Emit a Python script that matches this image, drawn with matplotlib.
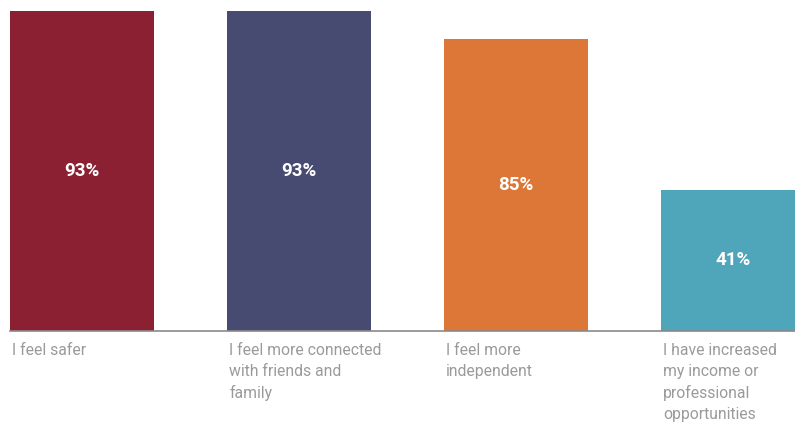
import matplotlib
matplotlib.use("Agg")
import matplotlib.pyplot as plt

categories = ["I feel safer",
              "I feel more connected\nwith friends and\nfamily",
              "I feel more\nindependent",
              "I have increased\nmy income or\nprofessional\nopportunities"]
values = [93, 93, 85, 41]
value_labels = ["93%", "93%", "85%", "41%"]
colors = ["#8B2033", "#474B71", "#DC7737", "#4FA6BB"]

W, H = 795, 423
fig = plt.figure(figsize=(W / 100, H / 100), dpi=100)
fig.patch.set_facecolor("white")

left_px, base_px = 10, 331
ax = fig.add_axes([left_px / W, 1 - base_px / H, (W - left_px) / W, base_px / H])
bw = 144 / 217
x = list(range(len(values)))
ax.bar(x, values, width=bw, color=colors, align="center")
ax.set_xlim(-bw / 2, -bw / 2 + (W - left_px) / 217)
ax.set_ylim(0, 93 / 320 * base_px)
for s in ["top", "right", "left"]:
    ax.spines[s].set_visible(False)
ax.spines["bottom"].set_color("#8a8a8a")
ax.spines["bottom"].set_linewidth(1.2)
ax.set_yticks([])
ax.set_xticks([])

for xi, v, lab in zip(x, values, value_labels):
    ax.text(xi, v / 2, lab, ha="center", va="center", color="white",
            fontsize=13.5, fontweight="bold", family=["Roboto", "DejaVu Sans"])

for xi, cat in zip(x, categories):
    ax.text(xi - bw / 2 + 0.01, -0.036, cat, transform=ax.get_xaxis_transform(),
            ha="left", va="top", color="#9a9a9a", fontsize=11.3,
            family=["Roboto", "DejaVu Sans"], linespacing=1.48)

fig.savefig("out.png", dpi=100, facecolor="white")
